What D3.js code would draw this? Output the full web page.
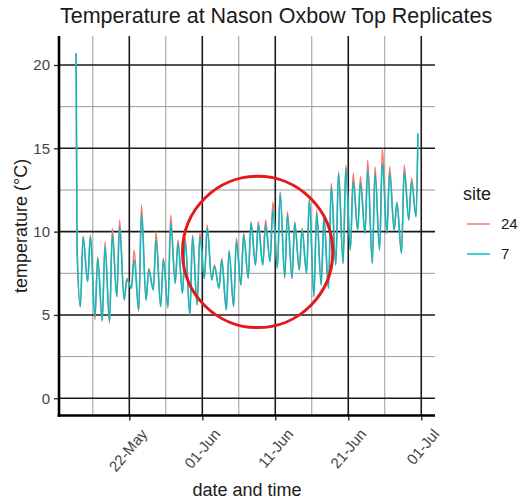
<!DOCTYPE html>
<html>
<head>
<meta charset="utf-8">
<script src="https://cdn.jsdelivr.net/npm/d3@7"></script>
<style>
  html, body { margin: 0; padding: 0; background: #fff; }
  svg { display: block; font-family: "Liberation Sans", Arial, sans-serif; }
</style>
</head>
<body>
<svg id="chart" width="523" height="501"></svg>
<script>
// Logger series for the two Nason Oxbow top replicates (sites 24 and 7).
// Each day contributes an early-morning low and an afternoon high.
const siteNames = ["24", "7"];
const siteColors = ["#F8766D", "#00BFC4"];

// Readings taken before the first full day (logger still out of the water).
const startTimes = ["2021-05-14T17:00", "2021-05-14T20:00"];
const start24 = [20.7, 9.1];
const start7 = [20.7, 9.1];

const firstDay = "2021-05-15";
const lastDay = "2021-06-30";

const min7 = [5.5, 7.0, 4.9, 4.7, 4.6, 6.1, 5.9, 6.6, 5.3, 5.9, 6.5, 5.5, 5.5, 6.9, 6.3, 5.0, 5.6,
  7.2, 7.1, 6.6, 5.3, 5.5, 6.8, 7.2, 8.0, 8.0, 8.2,
  7.8, 7.3, 7.2, 7.7, 7.5, 6.1, 6.8, 6.6, 8.0, 8.1,
  8.9, 10.1, 9.9, 8.1, 8.9, 9.9, 10.1, 8.7, 10.7, 10.9];
const max7 = [9.7, 9.7, 8.4, 9.1, 9.8, 10.3, 7.1, 8.3, 11.1, 7.7, 9.5, 8.3, 10.5, 9.3, 9.4, 9.7, 9.7,
  10.2, 7.9, 8.3, 8.8, 9.4, 9.8, 10.5, 10.4, 10.4, 11.3,
  12.3, 11.0, 10.5, 10.1, 11.9, 11.1, 10.8, 12.7, 13.5, 13.8,
  13.0, 12.9, 13.7, 13.5, 14.1, 13.5, 11.7, 13.6, 13.0, 15.9];
const min24 = [5.5, 7.0, 4.7, 4.6, 4.5, 6.1, 5.9, 6.6, 5.2, 5.9, 6.5, 5.5, 5.4, 6.9, 6.3, 5.0, 5.6,
  7.2, 7.1, 6.6, 5.3, 5.5, 6.8, 7.2, 8.0, 8.0, 8.2,
  7.8, 7.2, 7.2, 7.7, 7.5, 6.1, 6.8, 6.6, 8.0, 8.1,
  8.9, 10.1, 9.9, 8.1, 8.9, 9.9, 10.1, 8.7, 10.7, 10.9];
const max24 = [9.7, 9.8, 8.5, 9.4, 10.2, 10.7, 7.2, 8.9, 11.6, 7.8, 10.0, 8.4, 11.0, 9.5, 9.6, 9.8, 9.9,
  10.4, 8.0, 8.4, 8.9, 9.6, 9.9, 10.6, 10.6, 10.7, 11.8,
  12.4, 11.2, 10.6, 10.2, 12.0, 11.3, 11.0, 12.9, 13.6, 14.0,
  13.5, 13.3, 14.3, 13.9, 15.0, 13.9, 11.8, 14.0, 13.2, 15.8];

const lowHour = 7;
const highHour = 16;
const lastReadingHour = 13;   // logger pulled early afternoon on the final day

const xTickLabels = ["22-May", "01-Jun", "11-Jun", "21-Jun", "01-Jul"];
const yTicks = [0, 5, 10, 15, 20];
const yMinorTicks = [2.5, 7.5, 12.5, 17.5];

// Annotation ring around the early-June warming, in data units
const ringCenter = { time: "2021-06-08T14:00", temp: 8.78 };
const ringRadiusDays = 10.3;
const ringRadiusTemp = 4.54;

// ---------------------------------------------------------------
const parseT = d3.timeParse("%Y-%m-%dT%H:%M");
const parseD = d3.timeParse("%Y-%m-%d");
const parseTick = d3.timeParse("%d-%b %Y");
const days = d3.timeDay.range(parseD(firstDay), d3.timeDay.offset(parseD(lastDay), 1));

function buildSeries(startVals, mins, maxs) {
  const pts = startTimes.map((t, i) => ({ t: parseT(t), v: startVals[i] }));
  days.forEach((d, i) => {
    pts.push({ t: d3.timeHour.offset(d, lowHour), v: mins[i] });
    const h = i === days.length - 1 ? lastReadingHour : highHour;
    pts.push({ t: d3.timeHour.offset(d, h), v: maxs[i] });
  });
  return pts;
}
const series = [
  { name: siteNames[0], color: siteColors[0], pts: buildSeries(start24, min24, max24) },
  { name: siteNames[1], color: siteColors[1], pts: buildSeries(start7, min7, max7) }
];

const svg = d3.select("#chart");
const panel = { left: 59, right: 435, top: 36.1, bottom: 415.5 };

// 5% padding on both scales, y forced to include zero
const allPts = series.flatMap(s => s.pts);
const tExt = d3.extent(allPts, d => d.t);
const tPad = (tExt[1] - tExt[0]) * 0.05;
const x = d3.scaleTime()
  .domain([new Date(+tExt[0] - tPad), new Date(+tExt[1] + tPad)])
  .range([panel.left, panel.right]);
const vMax = d3.max(allPts, d => d.v);
const vPad = vMax * 0.05;
const y = d3.scaleLinear().domain([0 - vPad, vMax + vPad]).range([panel.bottom, panel.top]);

const fmt = d3.timeFormat("%d-%b");
const year = tExt[0].getFullYear();
const majorDates = xTickLabels.map(l => parseTick(`${l} ${year}`));
const minorDates = majorDates.map(d => d3.timeDay.offset(d, -5))
  .concat([d3.timeDay.offset(majorDates[majorDates.length - 1], 5)])
  .filter(d => x(d) > panel.left && x(d) < panel.right);

// Grid
const grid = svg.append("g");
grid.selectAll(".ymin").data(yMinorTicks).join("line")
  .attr("x1", panel.left).attr("x2", panel.right)
  .attr("y1", d => y(d)).attr("y2", d => y(d))
  .attr("stroke", "#9a9a9a").attr("stroke-width", 1);
grid.selectAll(".xmin").data(minorDates).join("line")
  .attr("x1", d => x(d)).attr("x2", d => x(d))
  .attr("y1", panel.top).attr("y2", panel.bottom)
  .attr("stroke", "#9a9a9a").attr("stroke-width", 1);
grid.selectAll(".ymaj").data(yTicks).join("line")
  .attr("x1", panel.left).attr("x2", panel.right)
  .attr("y1", d => y(d)).attr("y2", d => y(d))
  .attr("stroke", "#1a1a1a").attr("stroke-width", 1.6);
grid.selectAll(".xmaj").data(majorDates).join("line")
  .attr("x1", d => x(d)).attr("x2", d => x(d))
  .attr("y1", panel.top).attr("y2", panel.bottom)
  .attr("stroke", "#1a1a1a").attr("stroke-width", 1.6);

// Temperature lines
const line = d3.line().x(d => x(d.t)).y(d => y(d.v)).curve(d3.curveMonotoneX);
svg.append("g").selectAll("path").data(series).join("path")
  .attr("d", d => line(d.pts))
  .attr("fill", "none")
  .attr("stroke", d => d.color)
  .attr("stroke-width", 1.5)
  .attr("stroke-linejoin", "round");

// Axes
const yAxis = svg.append("g").attr("transform", `translate(${panel.left},0)`)
  .call(d3.axisLeft(y).tickValues(yTicks).tickSize(5).tickPadding(4));
yAxis.select(".domain").remove();
yAxis.selectAll(".tick line").attr("stroke", "#222").attr("stroke-width", 1.3);
yAxis.selectAll(".tick text").attr("fill", "#444")
  .style("font-size", "15px").style("font-family", "Liberation Sans, Arial, sans-serif");

const xAxis = svg.append("g").attr("transform", `translate(0,${panel.bottom})`)
  .call(d3.axisBottom(x).tickValues(majorDates).tickFormat(fmt).tickSize(5));
xAxis.select(".domain").remove();
xAxis.selectAll(".tick line").attr("stroke", "#222").attr("stroke-width", 1.3);
xAxis.selectAll(".tick text")
  .attr("fill", "#444")
  .style("font-size", "15px").style("font-family", "Liberation Sans, Arial, sans-serif")
  .attr("text-anchor", "end")
  .attr("y", 0).attr("dy", "0.72em")
  .attr("transform", "translate(10,12) rotate(-50)");

// Axis lines
svg.append("line").attr("x1", panel.left).attr("x2", panel.left)
  .attr("y1", panel.top).attr("y2", panel.bottom + 1.3)
  .attr("stroke", "#000").attr("stroke-width", 2.6);
svg.append("line").attr("x1", panel.left - 1.3).attr("x2", panel.right)
  .attr("y1", panel.bottom).attr("y2", panel.bottom)
  .attr("stroke", "#000").attr("stroke-width", 2.6);

// Annotation ring
const c = { t: parseT(ringCenter.time), v: ringCenter.temp };
svg.append("ellipse")
  .attr("cx", x(c.t)).attr("cy", y(c.v))
  .attr("rx", x(d3.timeHour.offset(c.t, Math.round(ringRadiusDays * 24))) - x(c.t))
  .attr("ry", y(c.v - ringRadiusTemp) - y(c.v))
  .attr("fill", "none").attr("stroke", "#e3191c").attr("stroke-width", 3);

// Titles
svg.append("text").attr("x", 60).attr("y", 23)
  .style("font-size", "21.5px").attr("fill", "#1a1a1a")
  .text("Temperature at Nason Oxbow Top Replicates");
svg.append("text")
  .attr("transform", `translate(27,${(panel.top + panel.bottom) / 2}) rotate(-90)`)
  .attr("text-anchor", "middle")
  .style("font-size", "18px").attr("fill", "#1a1a1a")
  .text("temperature (°C)");
svg.append("text").attr("x", (panel.left + panel.right) / 2).attr("y", 496)
  .attr("text-anchor", "middle")
  .style("font-size", "18px").attr("fill", "#1a1a1a")
  .text("date and time");

// Legend
const legend = svg.append("g").attr("transform", "translate(463,0)");
legend.append("text").attr("x", 0).attr("y", 200)
  .style("font-size", "18px").attr("fill", "#1a1a1a").text("site");
const items = legend.selectAll("g.item").data(series).join("g")
  .attr("transform", (d, i) => `translate(0,${224 + i * 30})`);
items.append("line").attr("x1", 4).attr("x2", 27).attr("y1", 0).attr("y2", 0)
  .attr("stroke", d => d.color).attr("stroke-width", 1.5);
items.append("text").attr("x", 38).attr("y", 0).attr("dy", "0.36em")
  .style("font-size", "15px").attr("fill", "#1a1a1a").text(d => d.name);
</script>
</body>
</html>
